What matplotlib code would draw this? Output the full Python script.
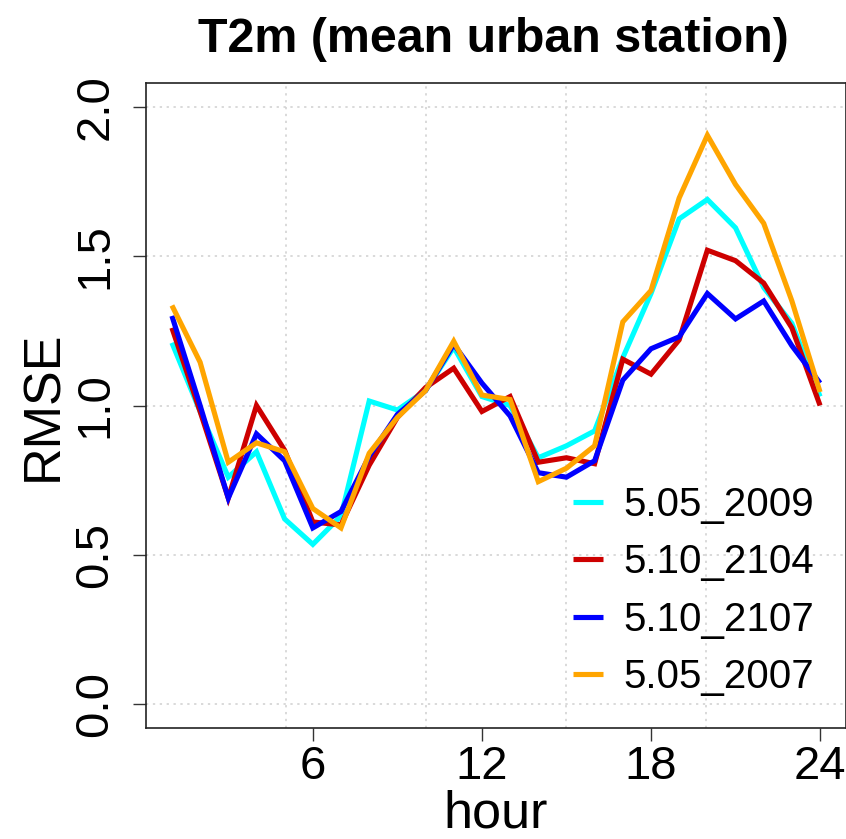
import numpy as np
import matplotlib
matplotlib.use("Agg")
import matplotlib.pyplot as plt

hours = list(range(1, 25))
series_names = ["5.05_2009", "5.10_2104", "5.10_2107", "5.05_2007"]
series_colors = ["#00FFFF", "#CD0000", "#0000FF", "#FFA500"]

rmse_5_05_2009 = [1.21, 0.98, 0.76, 0.845, 0.62, 0.535, 0.63, 1.015, 0.985, 1.05, 1.195, 1.03,
                  1.00, 0.825, 0.865, 0.915, 1.16, 1.375, 1.625, 1.69, 1.595, 1.395, 1.275, 1.03]
rmse_5_10_2104 = [1.26, 0.98, 0.69, 1.00, 0.85, 0.61, 0.60, 0.80, 0.96, 1.06, 1.125, 0.98,
                  1.03, 0.81, 0.825, 0.805, 1.155, 1.105, 1.22, 1.52, 1.485, 1.41, 1.26, 1.00]
rmse_5_10_2107 = [1.30, 1.00, 0.69, 0.905, 0.815, 0.59, 0.645, 0.83, 0.97, 1.05, 1.205, 1.075,
                  0.965, 0.775, 0.76, 0.815, 1.085, 1.19, 1.23, 1.375, 1.29, 1.35, 1.20, 1.075]
rmse_5_05_2007 = [1.335, 1.145, 0.81, 0.875, 0.845, 0.655, 0.59, 0.84, 0.96, 1.05, 1.215, 1.035,
                  1.02, 0.745, 0.79, 0.865, 1.28, 1.385, 1.695, 1.905, 1.74, 1.61, 1.35, 1.045]
series_values = [rmse_5_05_2009, rmse_5_10_2104, rmse_5_10_2107, rmse_5_05_2007]

x_ticks = [6, 12, 18, 24]
y_ticks = [0.0, 0.5, 1.0, 1.5, 2.0]
y_tick_labels = ["0.0", "0.5", "1.0", "1.5", "2.0"]

plt.rcParams["font.family"] = ["Liberation Sans", "DejaVu Sans"]

W, H = 846, 839
fig = plt.figure(figsize=(W / 100, H / 100), dpi=100)
ax = fig.add_axes([146 / W, (H - 728) / H, (W - 146) / W, (728 - 83) / H])

xlo, xhi = 1 - 0.04 * 23, 24 + 0.04 * 23
ylo, yhi = 0 - 0.04 * 2, 2 + 0.04 * 2
ax.set_xlim(xlo, xhi)
ax.set_ylim(ylo, yhi)

grid_kw = dict(color="#CFCFCF", lw=1.1, linestyle=(0, (1.5, 3)), zorder=1)
for gx in np.linspace(xlo, xhi, 6)[1:-1]:
    ax.axvline(gx, **grid_kw)
for gy in y_ticks:
    ax.axhline(gy, **grid_kw)

for name, col, vals in zip(series_names, series_colors, series_values):
    ax.plot(hours, vals, color=col, lw=3.7, label=name, zorder=3,
            solid_joinstyle="miter", solid_capstyle="butt")

ax.set_xticks(x_ticks)
ax.set_xticklabels([str(t) for t in x_ticks])
ax.set_yticks(y_ticks)
ax.set_yticklabels(y_tick_labels, rotation=90, va="center")
ax.tick_params(axis="both", direction="out", length=9.5, width=1.0,
               labelsize=34, color="#333333")
ax.tick_params(axis="x", pad=3)
ax.tick_params(axis="y", pad=11)
for sp in ax.spines.values():
    sp.set_linewidth(1.2)
    sp.set_color("#222222")

ax.set_xlabel("hour", fontsize=37.5, labelpad=0)
ax.set_ylabel("RMSE", fontsize=37.5, labelpad=4)
fig.text((146 + 846) / 2 / W - 0.003, 1 - 40 / H, "T2m (mean urban station)",
         ha="center", va="center", fontsize=34.8, fontweight="bold")

leg = ax.legend(loc="upper left", bbox_to_anchor=(573 / W, 1 - 486 / H),
                bbox_transform=fig.transFigure, frameon=False, fontsize=29,
                handlelength=0.75, handletextpad=0.5, labelspacing=0.48,
                borderpad=0, borderaxespad=0)

fig.savefig("out.png", dpi=100)
